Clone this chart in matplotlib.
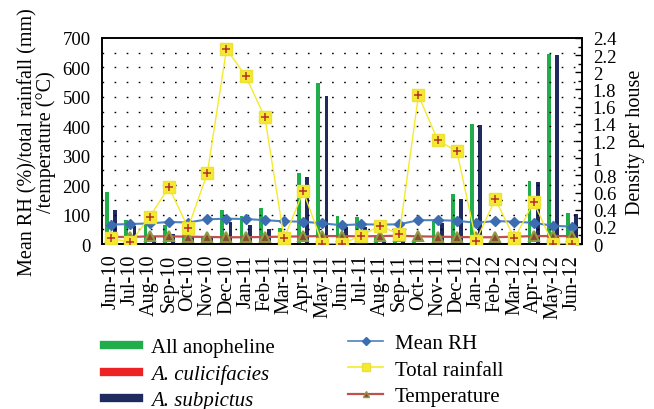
import matplotlib
matplotlib.use("Agg")
import matplotlib.pyplot as plt
from matplotlib.lines import Line2D
from matplotlib.ticker import MultipleLocator
import numpy as np

months = ["Jun-10", "Jul-10", "Aug-10", "Sep-10", "Oct-10", "Nov-10", "Dec-10",
          "Jan-11", "Feb-11", "Mar-11", "Apr-11", "May-11", "Jun-11", "Jul-11",
          "Aug-11", "Sep-11", "Oct-11", "Nov-11", "Dec-11", "Jan-12", "Feb-12",
          "Mar-12", "Apr-12", "May-12", "Jun-12"]

# Density per house (right axis)
all_anopheline = [0.61, 0.28, 0.27, 0.22, 0.12, 0.08, 0.40, 0.33, 0.42, 0.19,
                  0.83, 1.88, 0.33, 0.31, 0.08, 0.09, 0.03, 0.27, 0.58, 1.40,
                  0.015, 0.14, 0.73, 2.21, 0.36]
culicifacies = [0, 0, 0, 0, 0, 0, 0, 0, 0, 0, 0, 0, 0, 0, 0, 0, 0, 0, 0, 0,
                0, 0, 0, 0, 0]
subpictus = [0.40, 0.21, 0.09, 0.12, 0.08, 0.08, 0.26, 0.22, 0.17, 0.10,
             0.78, 1.72, 0.20, 0.20, 0.02, 0.03, 0.01, 0.24, 0.53, 1.39,
             0.0, 0.13, 0.72, 2.20, 0.35]

# Left axis
mean_rh = [66, 68, 70, 75, 73, 84, 86, 85, 81, 77, 76, 70, 64, 67, 66, 67,
           81, 81, 79, 72, 78, 76, 72, 62, 59]
rainfall = [19, 6, 93, 193, 55, 240, 662, 571, 430, 19, 179, 0, 0, 28, 62, 33,
            505, 353, 315, 11, 152, 19, 142, 0, 0]
temperature = [24, 24, 26, 26, 25, 24, 23, 23, 24, 25, 26, 27, 27, 26, 27, 28,
               26, 25, 24, 23, 23, 25, 27, 27, 27]

plt.rcParams['font.family'] = ['Liberation Serif', 'DejaVu Serif']
FS = 13.5

fig = plt.figure(figsize=(6.54, 4.10), dpi=100)
ax = fig.add_axes([0.1555, 0.4024, 0.7339, 0.5025])
ax2 = ax.twinx()

x = np.arange(len(months))
w = 0.2
ax2.bar(x - 0.22, all_anopheline, w, color="#22ad4c", zorder=2)
ax2.bar(x, culicifacies, w, color="#ed2224", zorder=2)
ax2.bar(x + 0.21, subpictus, w, color="#1f2a5e", zorder=2)
ax2.set_ylim(0, 2.4)
ax2.yaxis.set_minor_locator(MultipleLocator(0.1))
ax2.set_yticks(np.arange(0, 2.41, 0.2))
ax2.set_yticklabels(["0", "0.2", "0.4", "0.6", "0.8", "1", "1.2", "1.4", "1.6",
                     "1.8", "2", "2.2", "2.4"])
ax2.tick_params(axis='y', which='major', direction='in', length=5, width=1,
                labelsize=FS, pad=8)
ax2.tick_params(axis='y', which='minor', direction='in', length=3, width=1)
ax2.set_ylabel("Density per house", fontsize=14.5, labelpad=7)

ax.set_zorder(ax2.get_zorder() + 1)
ax.patch.set_visible(False)

ax.plot(x, mean_rh, color="#4f81bd", lw=1.5, marker="D", ms=5.5,
        mfc="#3b6db0", mec="#3b6db0", zorder=4)
ax.plot(x, rainfall, color="#f5ea2e", lw=1.0, marker="s", ms=8,
        mfc="#f5ea2e", mec="#ece03a", zorder=5)
ax.plot(x, rainfall, ls="none", marker="+", ms=6, mew=1.1, color="#b3302c",
        zorder=6)
ax.plot(x, temperature, color="#c0504d", lw=1.6, marker="^", ms=7,
        mfc="#8a4a2e", mec="#8f9a45", mew=1.5, zorder=4)

ax.set_xlim(-0.5, len(months) - 0.5)
ax.set_ylim(0, 700)
ax.set_yticks(np.arange(0, 701, 100))
ax.set_xticks(x)
ax.set_xticklabels(months, rotation=90, fontsize=14.5)
ax.tick_params(axis='x', length=0, pad=7)
ax.tick_params(axis='y', length=0, labelsize=FS, pad=8)
for yy in np.arange(50, 651, 50):
    ax.axhline(yy, color="black", lw=1.0, ls=(0, (1.2, 7.5)), zorder=0)
ax.set_ylabel("Mean RH (%)/total rainfall (mm)\n/temperature (°C)",
              fontsize=14.5, linespacing=0.85, labelpad=5)

for a in (ax, ax2):
    for s in a.spines.values():
        s.set_linewidth(1.2)
        s.set_color("black")

h1 = [Line2D([0], [0], color="#22ad4c", lw=6),
      Line2D([0], [0], color="#ed2224", lw=6),
      Line2D([0], [0], color="#1f2a5e", lw=6)]
l1 = ["All anopheline", "A. culicifacies", "A. subpictus"]
leg1 = fig.legend(h1, l1, loc="upper left", bbox_to_anchor=(0.159, 0.174),
                  frameon=False, fontsize=15, handlelength=1.7, handletextpad=0.55,
                  labelspacing=0.33, borderaxespad=0, borderpad=0)
leg1.get_texts()[1].set_fontstyle("italic")
leg1.get_texts()[2].set_fontstyle("italic")

h2 = [Line2D([0], [0], color="#4f81bd", lw=1.2, marker="D", ms=4,
             mfc="#3b6db0", mec="#3b6db0"),
      Line2D([0], [0], color="#f5ea2e", lw=1.2, marker="s", ms=6,
             mfc="#f5ea2e", mec="#ece03a"),
      Line2D([0], [0], color="#c0504d", lw=1.6, marker="^", ms=5,
             mfc="#8a4a2e", mec="#8f9a45")]
l2 = ["Mean RH", "Total rainfall", "Temperature"]
leg2 = fig.legend(h2, l2, loc="upper left", bbox_to_anchor=(0.532, 0.184),
                  frameon=False, fontsize=15, handlelength=1.7, handletextpad=0.55,
                  labelspacing=0.33, borderaxespad=0, borderpad=0)

fig.savefig("out.png", dpi=100)
